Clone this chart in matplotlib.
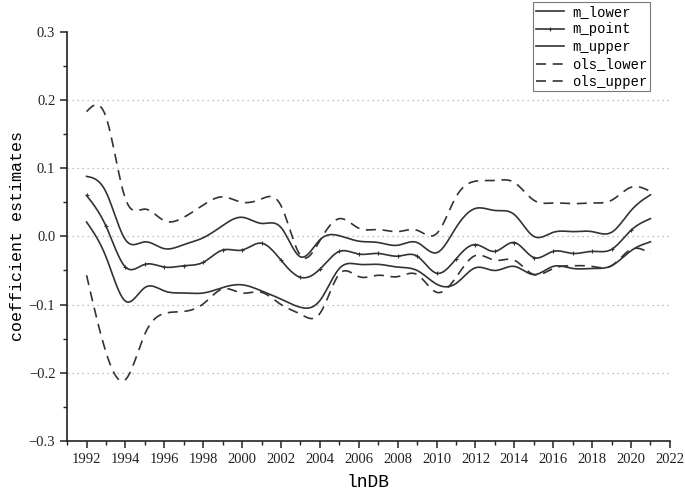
import numpy as np
import matplotlib
matplotlib.use("Agg")
import matplotlib.pyplot as plt
from matplotlib.ticker import MultipleLocator, FixedLocator

years = list(range(1992, 2022))

m_upper = [0.088, 0.065, -0.005, -0.008, -0.018, -0.012, -0.002, 0.016, 0.028, 0.019,
           0.013, -0.030, -0.005, 0.001, -0.007, -0.009, -0.013, -0.009, -0.024, 0.013,
           0.041, 0.038, 0.032, 0.0, 0.006, 0.007, 0.007, 0.006, 0.038, 0.061]
m_point = [0.060, 0.015, -0.045, -0.041, -0.045, -0.043, -0.038, -0.020, -0.020, -0.010,
           -0.035, -0.060, -0.048, -0.022, -0.026, -0.025, -0.029, -0.029, -0.054, -0.033,
           -0.012, -0.022, -0.009, -0.031, -0.022, -0.025, -0.022, -0.019, 0.009, 0.026]
m_lower = [0.021, -0.030, -0.095, -0.075, -0.080, -0.083, -0.083, -0.075, -0.071, -0.080,
           -0.092, -0.104, -0.094, -0.047, -0.041, -0.041, -0.045, -0.050, -0.070, -0.069,
           -0.046, -0.050, -0.044, -0.056, -0.044, -0.047, -0.047, -0.043, -0.021, -0.008]
ols_lower = [-0.057, -0.170, -0.210, -0.143, -0.113, -0.110, -0.099, -0.077, -0.083, -0.082,
             -0.100, -0.114, -0.113, -0.055, -0.059, -0.057, -0.059, -0.056, -0.082, -0.060,
             -0.028, -0.035, -0.035, -0.056, -0.047, -0.043, -0.044, -0.043, -0.019, -0.025]
ols_upper = [0.183, 0.175, 0.055, 0.040, 0.023, 0.028, 0.046, 0.058, 0.050, 0.055,
             0.045, -0.028, -0.006, 0.026, 0.012, 0.010, 0.007, 0.009, 0.004, 0.058,
             0.081, 0.082, 0.079, 0.053, 0.049, 0.048, 0.049, 0.053, 0.072, 0.066]

y_ticks = [-0.3, -0.2, -0.1, 0.0, 0.1, 0.2, 0.3]
y_ticklabels = ["\u22120.3", "\u22120.2", "\u22120.1", "0.0", "0.1", "0.2", "0.3"]
grid_levels = [-0.2, -0.1, 0.0, 0.1, 0.2]


def spline(x, y, n=12):
    # natural cubic spline, only for drawing a smooth curve through the points
    x = np.asarray(x, float)
    y = np.asarray(y, float)
    k = len(x)
    h = np.diff(x)
    A = np.zeros((k, k))
    b = np.zeros(k)
    A[0, 0] = A[-1, -1] = 1
    for i in range(1, k - 1):
        A[i, i - 1] = h[i - 1]
        A[i, i] = 2 * (h[i - 1] + h[i])
        A[i, i + 1] = h[i]
        b[i] = 6 * ((y[i + 1] - y[i]) / h[i] - (y[i] - y[i - 1]) / h[i - 1])
    M = np.linalg.solve(A, b)
    xs, ys = [], []
    for i in range(k - 1):
        t = np.linspace(x[i], x[i + 1], n, endpoint=(i == k - 2))
        a = (x[i + 1] - t) / h[i]
        c = (t - x[i]) / h[i]
        s = (a * y[i] + c * y[i + 1]
             + ((a ** 3 - a) * M[i] + (c ** 3 - c) * M[i + 1]) * h[i] ** 2 / 6)
        xs.append(t)
        ys.append(s)
    return np.concatenate(xs), np.concatenate(ys)


col = "#333333"
fig = plt.figure(figsize=(6.85, 4.93), dpi=100)
ax = fig.add_axes([0.098, 0.1055, 0.88, 0.83])

for lv in grid_levels:
    ax.axhline(lv, color="#aaaaaa", linestyle=(0, (1, 3)), linewidth=0.9, zorder=0)

series = [("m_lower", m_lower, "-", None),
          ("m_point", m_point, "-", "+"),
          ("m_upper", m_upper, "-", None),
          ("ols_lower", ols_lower, (0, (6, 4)), None),
          ("ols_upper", ols_upper, (0, (6, 4)), None)]

for name, vals, ls, mk in series:
    sx, sy = spline(years, vals)
    line, = ax.plot(sx, sy, color=col, linestyle=ls, linewidth=1.2, label=name)
    if mk:
        # markers sit on the yearly points of the smoothed line
        line.set_marker(mk)
        line.set_markevery(list(range(0, len(sx), 12)))
        line.set_markersize(3.5)
        line.set_markeredgewidth(0.8)

ax.set_xlim(1991, 2022)
ax.set_ylim(-0.3, 0.3)
ax.set_xticks(range(1992, 2023, 2))
ax.xaxis.set_minor_locator(MultipleLocator(1))
ax.yaxis.set_major_locator(FixedLocator(y_ticks))
ax.yaxis.set_minor_locator(MultipleLocator(0.05))
ax.set_yticklabels(y_ticklabels)

for s in ["top", "right"]:
    ax.spines[s].set_visible(False)
for s in ["left", "bottom"]:
    ax.spines[s].set_linewidth(1.2)
    ax.spines[s].set_color("#222222")

ax.tick_params(axis="both", which="major", direction="out", length=5, width=1.1,
               labelsize=10.5, colors="#222222")
ax.tick_params(axis="both", which="minor", direction="out", length=3, width=1.0,
               colors="#222222")
for lab in ax.get_xticklabels() + ax.get_yticklabels():
    lab.set_family("Liberation Serif")

ax.set_xlabel("lnDB", family="Liberation Mono", fontsize=13, labelpad=6)
ax.set_ylabel("coefficient estimates", family="Liberation Mono", fontsize=12, labelpad=3)

leg = ax.legend(loc="upper right", bbox_to_anchor=(650 / 685, 1 - 2 / 493),
                bbox_transform=fig.transFigure, frameon=True, fancybox=False,
                prop={"family": "Liberation Mono", "size": 10},
                handlelength=2.0, handletextpad=0.6, borderpad=0.2,
                labelspacing=0.25, borderaxespad=0, handleheight=0.6)
leg.get_frame().set_edgecolor("#555555")
leg.get_frame().set_linewidth(0.8)

fig.savefig("out.png", dpi=100)
